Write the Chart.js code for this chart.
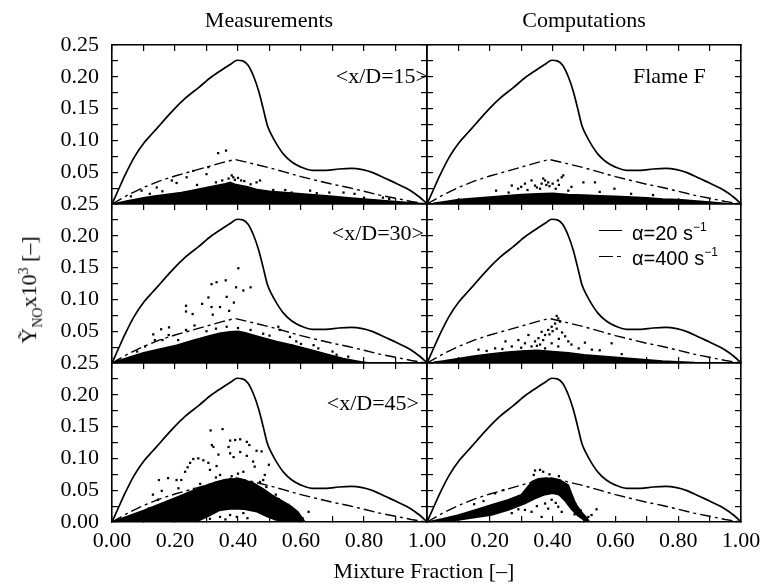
<!DOCTYPE html>
<html>
<head>
<meta charset="utf-8">
<script src="https://cdn.jsdelivr.net/npm/chart.js@4.4.1/dist/chart.umd.min.js"></script>
<style>
body { margin: 0; background: #fff; }
#fig { position: relative; width: 761px; height: 585px; font-family: "Liberation Serif", "Times New Roman", serif; color: #000; overflow: hidden; }
#fig canvas { position: absolute; left: 0; top: 0; }
.txt { position: absolute; white-space: nowrap; font-size: 22px; line-height: 1; }
.mid { transform: translate(-50%, -50%); }
.rgt { transform: translate(-100%, -50%); }
.lft { transform: translate(0, -50%); }
.leg { font-family: "Liberation Sans", Arial, sans-serif; font-size: 20px; }
.leg sup { font-size: 12px; vertical-align: 9px; }
.sample { position: absolute; height: 0; border-top: 1.6px solid #000; }
</style>
</head>
<body>
<div id="fig">
  <canvas id="m15" width="761" height="585"></canvas>
  <canvas id="c15" width="761" height="585"></canvas>
  <canvas id="m30" width="761" height="585"></canvas>
  <canvas id="c30" width="761" height="585"></canvas>
  <canvas id="m45" width="761" height="585"></canvas>
  <canvas id="c45" width="761" height="585"></canvas>

  <div class="txt mid" style="left:269px; top:20px;">Measurements</div>
  <div class="txt mid" style="left:584px; top:20px;">Computations</div>
  <div class="txt rgt" style="left:428px; top:76px;">&lt;x/D=15&gt;</div>
  <div class="txt rgt" style="left:424px; top:233px;">&lt;x/D=30&gt;</div>
  <div class="txt rgt" style="left:419px; top:403px;">&lt;x/D=45&gt;</div>
  <div class="txt lft" style="left:633px; top:76px;">Flame F</div>

  <div class="sample" style="left:599px; width:23px; top:230px;"></div>
  <div class="txt lft leg" style="left:632px; top:232px;">&alpha;=20 s<sup>&minus;1</sup></div>
  <div class="sample" style="left:599px; width:14px; top:256px;"></div>
  <div class="sample" style="left:617px; width:4px; top:256px;"></div>
  <div class="txt lft leg" style="left:632px; top:257px;">&alpha;=400 s<sup>&minus;1</sup></div>

  <div class="txt mid" style="left:424px; top:571px;">Mixture Fraction [&ndash;]</div>
  <div class="txt" style="left:31px; top:290px; transform: translate(-50%, -50%) rotate(-90deg);">&#7928;<sub style="font-size:14px;">NO</sub>x10<sup style="font-size:14px;">3</sup> [&ndash;]</div>
</div>

<script>
// flamelet curves (same in every panel)
const zAlpha20 = [0, 0.02, 0.041, 0.07, 0.103, 0.13, 0.157, 0.195, 0.232, 0.275, 0.316, 0.355, 0.38, 0.397, 0.415, 0.432, 0.45, 0.466, 0.48, 0.493, 0.508, 0.524, 0.545, 0.571, 0.6, 0.635, 0.68, 0.72, 0.76, 0.795, 0.83, 0.869, 0.9, 0.933, 0.96, 0.976, 0.99, 1.0];
const noAlpha20 = [0, 0.022, 0.045, 0.073, 0.097, 0.112, 0.127, 0.148, 0.166, 0.183, 0.200, 0.213, 0.221, 0.226, 0.225, 0.218, 0.200, 0.177, 0.150, 0.124, 0.107, 0.093, 0.078, 0.066, 0.058, 0.053, 0.053, 0.055, 0.056, 0.054, 0.049, 0.040, 0.033, 0.025, 0.017, 0.011, 0.005, 0];
const zAlpha400 = [0, 0.05, 0.10, 0.15, 0.20, 0.25, 0.30, 0.35, 0.39, 0.45, 0.50, 0.55, 0.60, 0.65, 0.70, 0.75, 0.80, 0.85, 0.90, 0.95, 1.0];
const noAlpha400 = [0, 0.014, 0.026, 0.036, 0.044, 0.051, 0.058, 0.065, 0.070, 0.063, 0.057, 0.050, 0.043, 0.037, 0.031, 0.026, 0.020, 0.014, 0.009, 0.004, 0];

// dense scatter regions, outlines [z, Y]
const meas15Cloud = [[0.01,0.001],[0.05,0.005],[0.08,0.008],[0.10,0.010],[0.13,0.012],[0.16,0.014],[0.19,0.016],[0.22,0.018],[0.25,0.021],[0.28,0.024],[0.30,0.026],[0.32,0.028],[0.34,0.030],[0.36,0.032],[0.375,0.034],[0.39,0.031],[0.41,0.029],[0.43,0.027],[0.46,0.023],[0.50,0.020],[0.55,0.018],[0.60,0.016],[0.65,0.014],[0.70,0.012],[0.75,0.010],[0.80,0.008],[0.85,0.006],[0.90,0.004],[0.95,0.002],[0.98,0.001],[0.98,0],[0.01,0]];
const comp15Cloud = [[0.02,0.001],[0.06,0.004],[0.10,0.007],[0.15,0.009],[0.20,0.011],[0.25,0.013],[0.30,0.015],[0.35,0.016],[0.40,0.017],[0.45,0.015],[0.50,0.014],[0.55,0.013],[0.60,0.012],[0.65,0.011],[0.70,0.010],[0.75,0.008],[0.80,0.007],[0.85,0.005],[0.90,0.003],[0.95,0.001],[0.95,0],[0.02,0]];
const meas30Cloud = [[0.01,0.002],[0.047,0.008],[0.10,0.016],[0.152,0.022],[0.205,0.028],[0.258,0.036],[0.31,0.043],[0.345,0.047],[0.375,0.049],[0.40,0.050],[0.42,0.048],[0.47,0.041],[0.523,0.034],[0.575,0.028],[0.63,0.021],[0.68,0.014],[0.734,0.007],[0.79,0.002],[0.82,0],[0.01,0]];
const comp30Cloud = [[0.02,0.001],[0.05,0.003],[0.10,0.007],[0.15,0.011],[0.20,0.014],[0.25,0.017],[0.30,0.019],[0.35,0.020],[0.40,0.018],[0.45,0.016],[0.50,0.013],[0.55,0.011],[0.60,0.009],[0.65,0.007],[0.70,0.005],[0.75,0.003],[0.80,0.002],[0.85,0.001],[0.85,0],[0.02,0]];
const meas45Cloud = [[0.01,0.002],[0.05,0.009],[0.10,0.018],[0.15,0.028],[0.20,0.038],[0.25,0.048],[0.30,0.058],[0.33,0.063],[0.36,0.067],[0.39,0.068],[0.42,0.066],[0.45,0.061],[0.48,0.052],[0.51,0.042],[0.54,0.033],[0.57,0.024],[0.59,0.016],[0.60,0.009],[0.61,0.002],[0.57,0.001],[0.52,0.003],[0.49,0.009],[0.46,0.016],[0.42,0.020],[0.38,0.021],[0.34,0.018],[0.31,0.010],[0.28,0.003],[0.25,0.001],[0.01,0]];
const comp45Cloud = [[0.01,0.001],[0.05,0.005],[0.10,0.011],[0.153,0.019],[0.206,0.027],[0.259,0.035],[0.30,0.043],[0.32,0.055],[0.335,0.064],[0.355,0.068],[0.38,0.069],[0.40,0.068],[0.43,0.064],[0.45,0.058],[0.46,0.045],[0.47,0.033],[0.48,0.024],[0.495,0.014],[0.51,0.006],[0.515,0.002],[0.50,0.003],[0.48,0.010],[0.46,0.020],[0.44,0.033],[0.42,0.043],[0.40,0.045],[0.376,0.043],[0.344,0.037],[0.312,0.029],[0.259,0.019],[0.206,0.011],[0.10,0.003],[0.01,0]];

// sparse samples [z, Y]
const meas15Dots = [[0.337,0.080],[0.362,0.084],[0.094,0.021],[0.142,0.026],[0.19,0.037],[0.205,0.033],[0.237,0.042],[0.258,0.052],[0.30,0.047],[0.306,0.058],[0.385,0.042],[0.41,0.037],[0.459,0.034],[0.47,0.037],[0.512,0.022],[0.57,0.018],[0.629,0.021],[0.69,0.018],[0.735,0.018],[0.77,0.016],[0.80,0.010],[0.37,0.040],[0.38,0.045],[0.39,0.038],[0.40,0.041],[0.42,0.036],[0.35,0.037],[0.44,0.031],[0.33,0.034],[0.06,0.012],[0.12,0.016],[0.16,0.020],[0.27,0.030],[0.55,0.022],[0.65,0.017],[0.86,0.010],[0.88,0.008]];
const comp15Dots = [[0.27,0.029],[0.29,0.024],[0.312,0.032],[0.333,0.037],[0.344,0.029],[0.365,0.032],[0.376,0.037],[0.386,0.034],[0.40,0.032],[0.417,0.037],[0.429,0.042],[0.434,0.045],[0.498,0.034],[0.535,0.034],[0.597,0.024],[0.22,0.021],[0.26,0.018],[0.46,0.027],[0.65,0.016],[0.35,0.026],[0.37,0.040],[0.39,0.028],[0.41,0.024],[0.32,0.022],[0.30,0.027],[0.38,0.030],[0.36,0.024],[0.42,0.030],[0.45,0.021],[0.55,0.019],[0.72,0.014]];
const meas30Dots = [[0.401,0.149],[0.316,0.124],[0.332,0.127],[0.361,0.130],[0.394,0.119],[0.417,0.114],[0.44,0.119],[0.235,0.090],[0.235,0.081],[0.256,0.077],[0.286,0.093],[0.306,0.103],[0.316,0.088],[0.343,0.088],[0.364,0.104],[0.372,0.082],[0.387,0.095],[0.32,0.076],[0.131,0.045],[0.156,0.053],[0.181,0.056],[0.136,0.036],[0.16,0.036],[0.18,0.044],[0.235,0.052],[0.262,0.059],[0.105,0.026],[0.364,0.057],[0.528,0.057],[0.533,0.052],[0.565,0.041],[0.57,0.028],[0.585,0.034],[0.64,0.028],[0.655,0.023],[0.713,0.013],[0.30,0.050],[0.33,0.054],[0.40,0.055],[0.44,0.052],[0.48,0.046],[0.50,0.043],[0.21,0.036],[0.08,0.018],[0.60,0.030],[0.70,0.018],[0.75,0.010]];
const comp30Dots = [[0.413,0.074],[0.418,0.070],[0.424,0.065],[0.408,0.062],[0.397,0.057],[0.386,0.052],[0.413,0.054],[0.376,0.044],[0.365,0.049],[0.355,0.039],[0.344,0.034],[0.323,0.044],[0.312,0.031],[0.333,0.026],[0.291,0.036],[0.27,0.026],[0.25,0.034],[0.217,0.023],[0.164,0.021],[0.44,0.042],[0.45,0.034],[0.46,0.029],[0.503,0.032],[0.588,0.031],[0.525,0.021],[0.483,0.023],[0.397,0.031],[0.418,0.026],[0.36,0.029],[0.376,0.023],[0.39,0.045],[0.40,0.050],[0.43,0.048],[0.37,0.036],[0.35,0.027],[0.42,0.038],[0.30,0.024],[0.24,0.022],[0.19,0.019],[0.55,0.020],[0.62,0.014]];
const meas45Dots = [[0.313,0.144],[0.351,0.146],[0.375,0.128],[0.391,0.129],[0.407,0.130],[0.428,0.126],[0.436,0.121],[0.317,0.121],[0.322,0.118],[0.338,0.106],[0.37,0.118],[0.375,0.108],[0.386,0.102],[0.407,0.110],[0.428,0.104],[0.459,0.112],[0.475,0.111],[0.258,0.099],[0.274,0.100],[0.29,0.097],[0.248,0.093],[0.24,0.086],[0.232,0.079],[0.306,0.093],[0.311,0.082],[0.332,0.088],[0.343,0.074],[0.40,0.076],[0.417,0.079],[0.453,0.087],[0.448,0.095],[0.498,0.090],[0.485,0.074],[0.47,0.063],[0.48,0.066],[0.149,0.066],[0.178,0.069],[0.205,0.066],[0.22,0.066],[0.158,0.049],[0.211,0.053],[0.13,0.043],[0.146,0.035],[0.116,0.021],[0.51,0.040],[0.52,0.043],[0.587,0.011],[0.624,0.016],[0.605,0.006],[0.375,0.011],[0.396,0.008],[0.343,0.008],[0.417,0.014],[0.311,0.005],[0.36,0.004],[0.43,0.006],[0.33,0.070],[0.38,0.072],[0.26,0.052],[0.28,0.060],[0.49,0.055],[0.53,0.036],[0.56,0.027]];
const comp45Dots = [[0.312,0.019],[0.333,0.016],[0.376,0.029],[0.386,0.021],[0.397,0.035],[0.418,0.024],[0.429,0.016],[0.365,0.008],[0.27,0.014],[0.291,0.020],[0.54,0.020],[0.514,0.008],[0.524,0.011],[0.217,0.045],[0.243,0.050],[0.344,0.081],[0.36,0.082],[0.37,0.079],[0.34,0.074],[0.39,0.075],[0.42,0.072],[0.15,0.028],[0.18,0.033],[0.35,0.025],[0.41,0.030],[0.44,0.040],[0.47,0.012],[0.49,0.018]];

// panel edges in page pixels
const colX = [112, 427, 741];
const rowY = [45, 204, 363, 522];
const yAxisW = 60;
const xAxisH = 40;

Chart.defaults.font.family = '"Liberation Serif", "Times New Roman", serif';
Chart.defaults.font.size = 22;
Chart.defaults.color = '#000';

function toPoints(xs, ys) {
    return xs.map((x, i) => ({ x: x, y: ys[i] }));
}

function pairPoints(list) {
    return list.map(p => ({ x: p[0], y: p[1] }));
}

function fracLabel(v, hideZero) {
    const k = Math.round(v * 10);
    if (k % 2 !== 0) return '';
    if (hideZero && k === 0) return '';
    return (k / 10).toFixed(2);
}

function noLabel(v, showZero) {
    const k = Math.round(v / 0.025);
    if (k % 2 !== 0) return '';
    if (k === 0 && !showZero) return '';
    return (k * 0.025).toFixed(2);
}

function axisBase(min, max, step) {
    return {
        type: 'linear',
        min: min,
        max: max,
        ticks: { stepSize: step, autoSkip: false, maxRotation: 0, minRotation: 0 },
        grid: { drawOnChartArea: false, drawTicks: true, tickLength: -6, color: '#000', lineWidth: 1.2 },
        border: { display: true, color: '#000', width: 1.6 }
    };
}

function makePanel(canvasId, col, row, cloud, dots) {
    const left = colX[col], right = colX[col + 1];
    const top = rowY[row], bottom = rowY[row + 1];
    const bottomRow = row === 2;

    const x = axisBase(0, 1, 0.1);
    x.position = 'bottom';
    x.ticks.padding = 12;
    x.ticks.callback = v => bottomRow ? fracLabel(v, col === 1) : '';
    x.afterFit = s => { s.height = xAxisH; s.paddingLeft = 0; s.paddingRight = 0; };

    const y = axisBase(0, 0.25, 0.025);
    y.position = 'left';
    y.ticks.padding = 19;
    y.ticks.callback = v => col === 0 ? noLabel(v, bottomRow) : '';
    y.afterFit = s => { s.width = yAxisW; s.paddingTop = 0; s.paddingBottom = 0; };

    const x2 = axisBase(0, 1, 0.1);
    x2.position = 'top';
    x2.ticks.callback = () => '';
    x2.afterFit = s => { s.height = 0; s.paddingLeft = 0; s.paddingRight = 0; };

    const y2 = axisBase(0, 0.25, 0.025);
    y2.position = 'right';
    y2.ticks.callback = () => '';
    y2.afterFit = s => { s.width = 0; s.paddingTop = 0; s.paddingBottom = 0; };

    new Chart(document.getElementById(canvasId), {
        type: 'scatter',
        data: {
            datasets: [
                {
                    label: 'α=20 s-1',
                    data: toPoints(zAlpha20, noAlpha20),
                    showLine: true,
                    borderColor: '#000',
                    borderWidth: 1.7,
                    pointRadius: 0,
                    cubicInterpolationMode: 'monotone'
                },
                {
                    label: 'α=400 s-1',
                    data: toPoints(zAlpha400, noAlpha400),
                    showLine: true,
                    borderColor: '#000',
                    borderWidth: 1.4,
                    borderDash: [11, 4, 3, 4],
                    pointRadius: 0
                },
                {
                    label: 'dense',
                    data: pairPoints(cloud),
                    showLine: true,
                    fill: 'shape',
                    backgroundColor: '#000',
                    borderColor: '#000',
                    borderWidth: 1.5,
                    pointRadius: 0
                },
                {
                    label: 'samples',
                    data: pairPoints(dots),
                    pointStyle: 'rect',
                    pointRadius: 1.6,
                    backgroundColor: '#000',
                    borderWidth: 0
                }
            ]
        },
        options: {
            responsive: false,
            animation: false,
            devicePixelRatio: 1,
            layout: {
                padding: { left: left - yAxisW, right: 761 - right, top: top, bottom: 585 - bottom - xAxisH }
            },
            plugins: { legend: { display: false }, tooltip: { enabled: false } },
            scales: { x: x, y: y, x2: x2, y2: y2 }
        }
    });
}

makePanel('m15', 0, 0, meas15Cloud, meas15Dots);
makePanel('c15', 1, 0, comp15Cloud, comp15Dots);
makePanel('m30', 0, 1, meas30Cloud, meas30Dots);
makePanel('c30', 1, 1, comp30Cloud, comp30Dots);
makePanel('m45', 0, 2, meas45Cloud, meas45Dots);
makePanel('c45', 1, 2, comp45Cloud, comp45Dots);
</script>
</body>
</html>
